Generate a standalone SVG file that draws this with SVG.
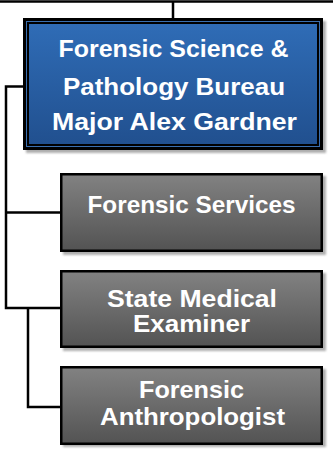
<svg xmlns="http://www.w3.org/2000/svg" width="333" height="455" viewBox="0 0 333 455">
<defs>
<linearGradient id="gBlue" x1="0" y1="0" x2="0" y2="1">
<stop offset="0" stop-color="#2f6cb6"/>
<stop offset="1" stop-color="#21508f"/>
</linearGradient>
<linearGradient id="gGray" x1="0" y1="0" x2="0" y2="1">
<stop offset="0" stop-color="#828282"/>
<stop offset="1" stop-color="#535353"/>
</linearGradient>
<filter id="sh" x="-5%" y="-5%" width="115%" height="120%">
<feGaussianBlur stdDeviation="1"/>
</filter>
</defs>
<style>
.conn{fill:none;stroke:#000;stroke-width:2.5}
.shadow{fill:#9a9a9a;opacity:0.8}
.gbox{fill:url(#gGray);stroke:#000;stroke-width:2.5}
.t{font-family:"Liberation Sans",Arial,sans-serif;font-weight:bold;font-size:24px;fill:#fff;text-anchor:middle}
</style>
<rect width="333" height="455" fill="#fff"/>
<g id="connectors">
<path class="conn" d="M0,1.5 H333 M173,1.5 V18"/>
<path class="conn" d="M24,86.5 H6 V308 H61"/>
<path class="conn" d="M6,212.5 H61"/>
<path class="conn" d="M28,308 V407 H61"/>
</g>
<g id="bureau">
<rect class="shadow" x="26" y="21" width="300" height="132" filter="url(#sh)"/>
<rect x="23" y="18" width="300" height="132" fill="#000"/>
<rect x="26.5" y="21.5" width="293" height="125" fill="none" stroke="#3a6fb0" stroke-width="1"/>
<rect x="29" y="24" width="288" height="120" fill="url(#gBlue)"/>
<text class="t" x="173.5" y="57" textLength="230" lengthAdjust="spacingAndGlyphs">Forensic Science &amp;</text>
<text class="t" x="174" y="94.5" textLength="222" lengthAdjust="spacingAndGlyphs">Pathology Bureau</text>
<text class="t" x="174.5" y="129.5" textLength="245" lengthAdjust="spacingAndGlyphs">Major Alex Gardner</text>
</g>
<g id="services">
<rect class="shadow" x="63" y="176" width="263" height="79" filter="url(#sh)"/>
<rect class="gbox" x="61.25" y="174.25" width="260.5" height="76.5"/>
<text class="t" x="191.5" y="213" textLength="208" lengthAdjust="spacingAndGlyphs">Forensic Services</text>
</g>
<g id="examiner">
<rect class="shadow" x="63" y="273" width="263" height="78" filter="url(#sh)"/>
<rect class="gbox" x="61.25" y="271.25" width="260.5" height="75.5"/>
<text class="t" x="192" y="307" textLength="170" lengthAdjust="spacingAndGlyphs">State Medical</text>
<text class="t" x="191.5" y="332" textLength="117" lengthAdjust="spacingAndGlyphs">Examiner</text>
</g>
<g id="anthropologist">
<rect class="shadow" x="63" y="369" width="263" height="78" filter="url(#sh)"/>
<rect class="gbox" x="61.25" y="367.25" width="260.5" height="76.5"/>
<text class="t" x="191.5" y="398" textLength="105" lengthAdjust="spacingAndGlyphs">Forensic</text>
<text class="t" x="192.5" y="425" textLength="185" lengthAdjust="spacingAndGlyphs">Anthropologist</text>
</g>
</svg>
